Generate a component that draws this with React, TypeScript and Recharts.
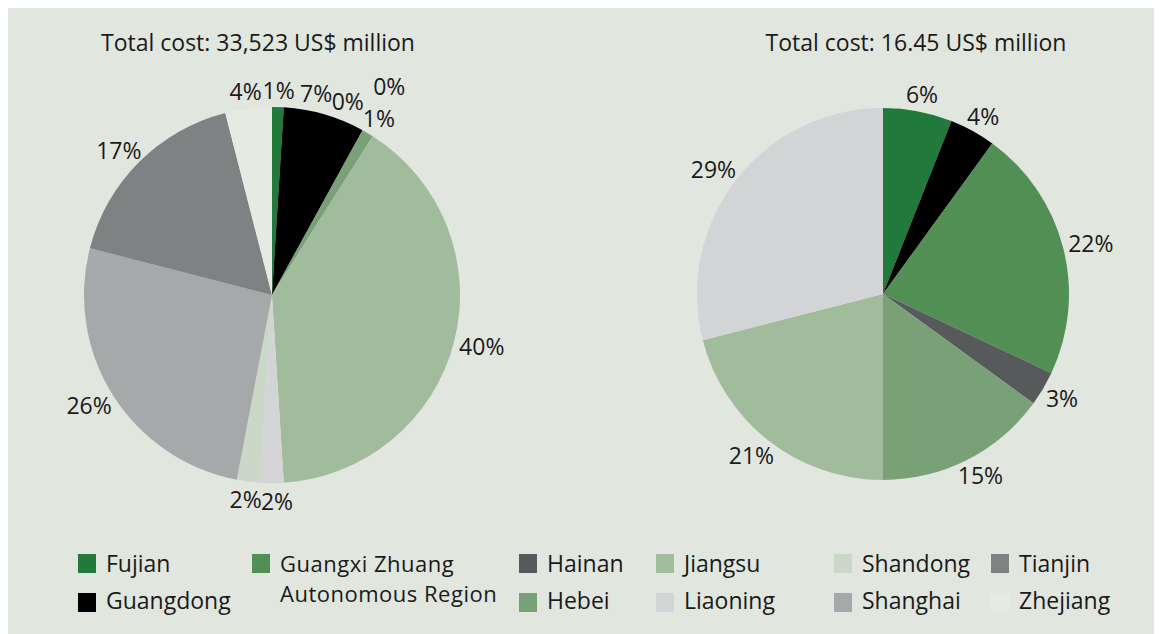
import React from "react"
import { PieChart, Pie, Cell } from "recharts"

const categories = [
  "Fujian",
  "Guangdong",
  "Guangxi Zhuang Autonomous Region",
  "Hainan",
  "Hebei",
  "Jiangsu",
  "Liaoning",
  "Shandong",
  "Shanghai",
  "Tianjin",
  "Zhejiang",
]
const leftShares = [1, 7, 0, 0, 1, 40, 2, 2, 26, 17, 4]
const rightCategories = categories.slice(0, 7)
const rightShares = [6, 4, 22, 3, 15, 21, 29]
const leftTitle = "Total cost: 33,523 US$ million"
const rightTitle = "Total cost: 16.45 US$ million"

const COLORS = [
  "#217a3c",
  "#000000",
  "#528f55",
  "#58595b",
  "#79a077",
  "#a1bb9d",
  "#d3d4d6",
  "#cbd8c8",
  "#a7a8aa",
  "#808183",
  "#e6eae3",
]

const BG = "#e1e6df"
const FONT = "'Open Sans', 'Noto Sans', sans-serif"
const LABEL_SIZE = 23
const RAD = Math.PI / 180

const textWidth = (t: string) =>
  t.split("").reduce((w, ch) => w + (ch === "%" ? 0.82 : 0.572) * LABEL_SIZE, 0)

// puts the percentage labels just outside the rim; a clashing label slides
// along the rim or is pushed outward, whichever moves it least
function layoutLabels(values: number[], r: number) {
  const total = values.reduce((a, b) => a + b, 0)
  let acc = 0
  const items: any[] = values.map((v) => {
    const theta = ((acc + v / 2) / total) * 360
    acc += v
    return { theta, text: `${v}%`, hw: textWidth(`${v}%`) / 2, dx: 0, dy: 0 }
  })
  const hh = LABEL_SIZE * 0.5
  const base = (it: any) => {
    const s = Math.sin(it.theta * RAD)
    const c = Math.cos(it.theta * RAD)
    const rad = r + 6
    return { x: rad * s + it.hw * s, y: -rad * c - hh * c, s, c }
  }
  const clash = (a: any, b: any) =>
    Math.abs(a.dx - b.dx) < a.hw + b.hw - 1 && Math.abs(a.dy - b.dy) < LABEL_SIZE * 1.4
  const placed: any[] = []
  for (let i = items.length - 1; i >= 0; i--) {
    const it = items[i]
    const b = base(it)
    it.dx = b.x
    it.dy = b.y
    if (placed.some((p) => clash(p, it))) {
      for (let step = 1; step < 200; step++) {
        const cands = [
          { dx: b.x - b.c * step, dy: b.y - b.s * step },
          { dx: b.x + b.c * (step / 1.2), dy: b.y + b.s * (step / 1.2) },
          { dx: b.x + b.s * (step / 1.5), dy: b.y - b.c * (step / 1.5) },
        ]
        const ok = cands.find((cnd) => !placed.some((p) => clash(p, { ...it, ...cnd })))
        if (ok) {
          it.dx = ok.dx
          it.dy = ok.dy
          break
        }
      }
    }
    placed.push(it)
  }
  return items
}

const LEFT = { cx: 264, cy: 287, r: 188 }
const RIGHT = { cx: 875, cy: 286, r: 186 }

const leftData = categories.map((name, i) => ({ name, value: leftShares[i] }))
const rightData = rightCategories.map((name, i) => ({ name, value: rightShares[i] }))

const leftLabels = layoutLabels(leftShares, LEFT.r)
const rightLabels = layoutLabels(rightShares, RIGHT.r)

const makeLabel = (labels: any[]) => (props: any) => {
  const { cx, cy, index } = props
  const l = labels[index]
  if (!l) return null
  return (
    <text
      key={`lbl-${index}`}
      x={cx + l.dx}
      y={cy + l.dy}
      textAnchor="middle"
      dominantBaseline="central"
      fill="#1a1a1a"
      fontSize={LABEL_SIZE}
      fontFamily={FONT}
    >
      {l.text}
    </text>
  )
}

const legendCols = [
  { x: 70, items: [0, 1] },
  { x: 244, items: [2] },
  { x: 511, items: [3, 4] },
  { x: 648, items: [5, 6] },
  { x: 826, items: [7, 8] },
  { x: 983, items: [9, 10] },
]
const legendRows = [543, 580]

const titleStyle: React.CSSProperties = {
  position: "absolute",
  width: 500,
  top: 20,
  textAlign: "center",
  fontSize: 23,
  lineHeight: "28px",
  fontWeight: 500,
}

export default function App() {
  return (
    <div
      style={{
        position: "relative",
        width: 1154,
        height: 627,
        background: BG,
        fontFamily: FONT,
        color: "#1a1a1a",
      }}
    >
      <div style={{ ...titleStyle, left: 0 }}>{leftTitle}</div>
      <div style={{ ...titleStyle, left: 658 }}>{rightTitle}</div>
      <div style={{ position: "absolute", left: 0, top: 0 }}>
        <PieChart width={1154} height={540} margin={{ top: 0, right: 0, bottom: 0, left: 0 }}>
          <Pie
            data={leftData}
            dataKey="value"
            cx={LEFT.cx}
            cy={LEFT.cy}
            outerRadius={LEFT.r}
            startAngle={90}
            endAngle={-270}
            stroke="none"
            labelLine={false}
            label={makeLabel(leftLabels)}
            isAnimationActive={false}
          >
            {leftData.map((d, i) => (
              <Cell key={`l-${i}`} fill={COLORS[i]} />
            ))}
          </Pie>
          <Pie
            data={rightData}
            dataKey="value"
            cx={RIGHT.cx}
            cy={RIGHT.cy}
            outerRadius={RIGHT.r}
            startAngle={90}
            endAngle={-270}
            stroke="none"
            labelLine={false}
            label={makeLabel(rightLabels)}
            isAnimationActive={false}
          >
            {rightData.map((d, i) => (
              <Cell key={`r-${i}`} fill={COLORS[i]} />
            ))}
          </Pie>
        </PieChart>
      </div>
      {legendCols.map((col, ci) =>
        col.items.map((idx, ri) => {
          const multi = idx === 2
          return (
            <div
              key={`lg-${ci}-${ri}`}
              style={{
                position: "absolute",
                left: col.x,
                top: multi ? legendRows[0] - 3 : legendRows[ri],
                display: "flex",
                alignItems: "flex-start",
                fontSize: 23,
              }}
            >
              <div
                style={{
                  width: 18,
                  height: 19,
                  background: COLORS[idx],
                  marginTop: multi ? 6 : ri === 0 ? 3 : 5,
                  flex: "none",
                }}
              />
              <div style={{ marginLeft: 10 }}>
                {multi ? (
                  <div style={{ fontSize: 22, letterSpacing: 0.5 }}>
                    <div style={{ lineHeight: "30px", height: 30 }}>Guangxi Zhuang</div>
                    <div style={{ lineHeight: "30px", height: 30 }}>Autonomous Region</div>
                  </div>
                ) : (
                  <div style={{ lineHeight: "24px" }}>{categories[idx]}</div>
                )}
              </div>
            </div>
          )
        })
      )}
    </div>
  )
}
